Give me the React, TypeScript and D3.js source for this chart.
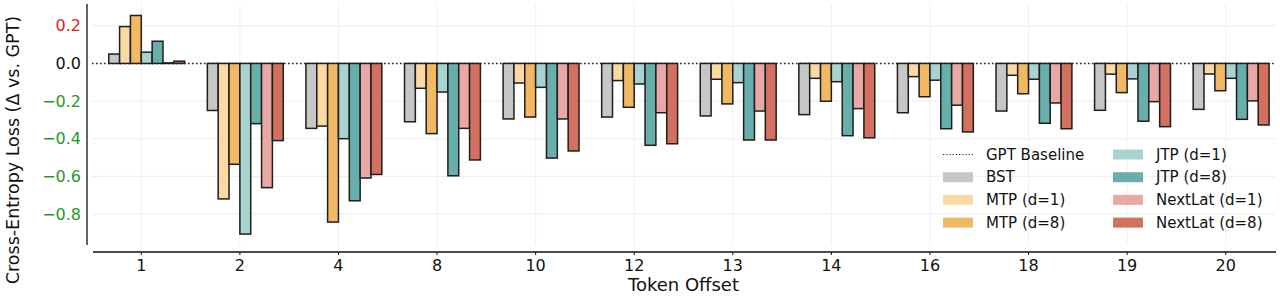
import React from 'react';
import { scaleBand, scaleLinear } from 'd3';

const offsets = ['1', '2', '4', '8', '10', '12', '13', '14', '16', '18', '19', '20'];

const bst = [0.05, -0.25, -0.345, -0.31, -0.295, -0.285, -0.279, -0.272, -0.262, -0.253, -0.249, -0.244];
const mtpD1 = [0.196, -0.72, -0.333, -0.132, -0.104, -0.091, -0.084, -0.079, -0.07, -0.063, -0.057, -0.056];
const mtpD8 = [0.255, -0.536, -0.843, -0.373, -0.285, -0.233, -0.215, -0.201, -0.177, -0.161, -0.155, -0.145];
const jtpD1 = [0.06, -0.907, -0.4, -0.152, -0.127, -0.109, -0.102, -0.097, -0.089, -0.084, -0.082, -0.079];
const jtpD8 = [0.118, -0.32, -0.73, -0.597, -0.503, -0.435, -0.407, -0.384, -0.347, -0.318, -0.307, -0.297];
const nextLatD1 = [0.003, -0.66, -0.609, -0.345, -0.295, -0.262, -0.253, -0.24, -0.222, -0.21, -0.203, -0.199];
const nextLatD8 = [0.012, -0.41, -0.59, -0.513, -0.465, -0.427, -0.407, -0.395, -0.364, -0.347, -0.336, -0.327];

const seriesNames = ['BST', 'MTP (d=1)', 'MTP (d=8)', 'JTP (d=1)', 'JTP (d=8)', 'NextLat (d=1)', 'NextLat (d=8)'];
const seriesColors = ['#c7c7c7', '#fad9a5', '#f2b964', '#a9d3d1', '#68afac', '#e8a9a6', '#d4705f'];
const seriesValues = [bst, mtpD1, mtpD8, jtpD1, jtpD8, nextLatD1, nextLatD8];

const yTicks = [0.2, 0.0, -0.2, -0.4, -0.6, -0.8];

const W = 1280;
const H = 299;
const FONT = 'DejaVu Sans, sans-serif';

const tickColor = (v: number) => (v > 0 ? '#e8201c' : v < 0 ? '#1f9a1f' : '#111');
const fmt = (v: number) => (v < 0 ? '\u2212' : '') + Math.abs(v).toFixed(1);

export default function App() {
  const left = 92;
  const right = 1275;
  const top = 4;
  const bottom = 245;

  const x = scaleBand().domain(offsets).range([left, right]);
  const y = scaleLinear().domain([-0.965, 0.316]).range([bottom, top]);
  const step = x.step();
  const bw = step * 0.11;

  const legendRows = [
    { label: 'GPT Baseline', color: null as string | null },
    ...seriesNames.map((n, i) => ({ label: n, color: seriesColors[i] })),
  ];

  return (
    <svg width={W} height={H} style={{ position: 'absolute', left: 0, top: 0 }} fontFamily={FONT}>
      <rect width={W} height={H} fill="#fff" />

      {/* grid */}
      {yTicks.map((t) => (
        <line key={'gy' + t} x1={left} x2={right} y1={y(t)} y2={y(t)} stroke="#ececec" strokeWidth={1} />
      ))}
      {offsets.map((o) => {
        const cx = (x(o) ?? 0) + step / 2;
        return <line key={'gx' + o} x1={cx} x2={cx} y1={top} y2={bottom} stroke="#f0f0f0" strokeWidth={1} />;
      })}

      {/* baseline */}
      <line x1={left} x2={right} y1={y(0)} y2={y(0)} stroke="#222" strokeWidth={1.5} strokeDasharray="1.5,2.5" />

      {/* bars */}
      {offsets.map((o, gi) => {
        const cx = (x(o) ?? 0) + step / 2;
        return seriesValues.map((vals, si) => {
          const v = vals[gi];
          const x0 = cx + (si - 3) * bw;
          const y0 = Math.min(y(0), y(v));
          const h = Math.abs(y(v) - y(0));
          return (
            <rect
              key={o + '-' + si}
              x={x0}
              y={y0}
              width={bw}
              height={h}
              fill={seriesColors[si]}
              stroke="#1e1e1e"
              strokeWidth={1.5}
            />
          );
        });
      })}

      {/* y axis */}
      <line x1={87} x2={87} y1={top} y2={bottom} stroke="#111" strokeWidth={1.3} />
      {yTicks.map((t) => (
        <text key={'ty' + t} x={81} y={y(t)} dy="0.35em" textAnchor="end" fontSize={16} fill={tickColor(t)}>
          {fmt(t)}
        </text>
      ))}
      <text
        transform={`translate(19,150) rotate(-90)`}
        textAnchor="middle"
        fontSize={17.5}
        fill="#111"
      >
        Cross-Entropy Loss (Δ vs. GPT)
      </text>

      {/* x axis */}
      <line x1={93} x2={1276} y1={252} y2={252} stroke="#111" strokeWidth={1.3} />
      {offsets.map((o) => {
        const cx = (x(o) ?? 0) + step / 2;
        return (
          <g key={'tx' + o}>
            <line x1={cx} x2={cx} y1={252} y2={255} stroke="#111" strokeWidth={1} />
            <text x={cx} y={271} textAnchor="middle" fontSize={16} fill="#111">
              {o}
            </text>
          </g>
        );
      })}
      <text x={(left + right) / 2} y={291} textAnchor="middle" fontSize={18} fill="#111">
        Token Offset
      </text>

      {/* legend */}
      {legendRows.map((r, i) => {
        const col = i < 4 ? 0 : 1;
        const row = i % 4;
        const hx = col === 0 ? 943 : 1113;
        const cy = 154.5 + row * 22.7;
        return (
          <g key={'lg' + i}>
            {r.color ? (
              <rect x={hx} y={cy - 5} width={30} height={10} fill={r.color} />
            ) : (
              <line x1={hx} x2={hx + 30} y1={cy} y2={cy} stroke="#222" strokeWidth={1.2} strokeDasharray="1.2,2" />
            )}
            <text x={hx + 43} y={cy} dy="0.35em" fontSize={15} fill="#111">
              {r.label}
            </text>
          </g>
        );
      })}
    </svg>
  );
}
